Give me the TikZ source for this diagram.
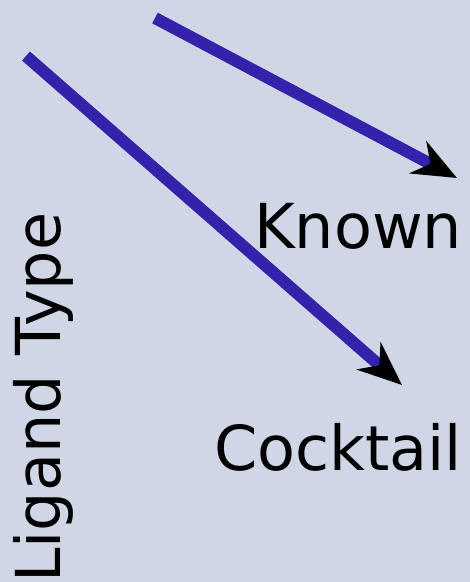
\documentclass[tikz,border=0pt]{standalone}
\usepackage{fontspec}
\setmainfont{DejaVu Sans}
\usetikzlibrary{arrows.meta}
\definecolor{bgcol}{RGB}{207,215,231}
\definecolor{shaft}{RGB}{52,34,170}
\tikzset{
  lbl/.style={inner sep=0pt, font=\fontsize{62}{62}\selectfont, text=black},
  link/.style={draw=shaft, line width=12pt,
    -{Stealth[length=44pt, width=36pt, inset=14pt, color=black]}},
}
\begin{document}
\begin{tikzpicture}[x=1pt, y=-1pt]
  \fill[bgcol] (0,0) rectangle (470,582);
  \useasboundingbox (0,0) rectangle (470,582);
  % category labels
  \node[lbl, anchor=base west] (known) at (254,248) {Known};
  \node[lbl, anchor=base west] (cocktail) at (214,470) {Cocktail};
  \node[lbl, anchor=base west, rotate=90] (axis) at (60,583) {Ligand Type};
  % arrow end points
  \coordinate (s1) at (155,18);
  \coordinate (t1) at (457,178);
  \coordinate (s2) at (26,56);
  \coordinate (t2) at (402,385);
  \draw[link] (s1) -- (t1);
  \draw[link] (s2) -- (t2);
\end{tikzpicture}
\end{document}
